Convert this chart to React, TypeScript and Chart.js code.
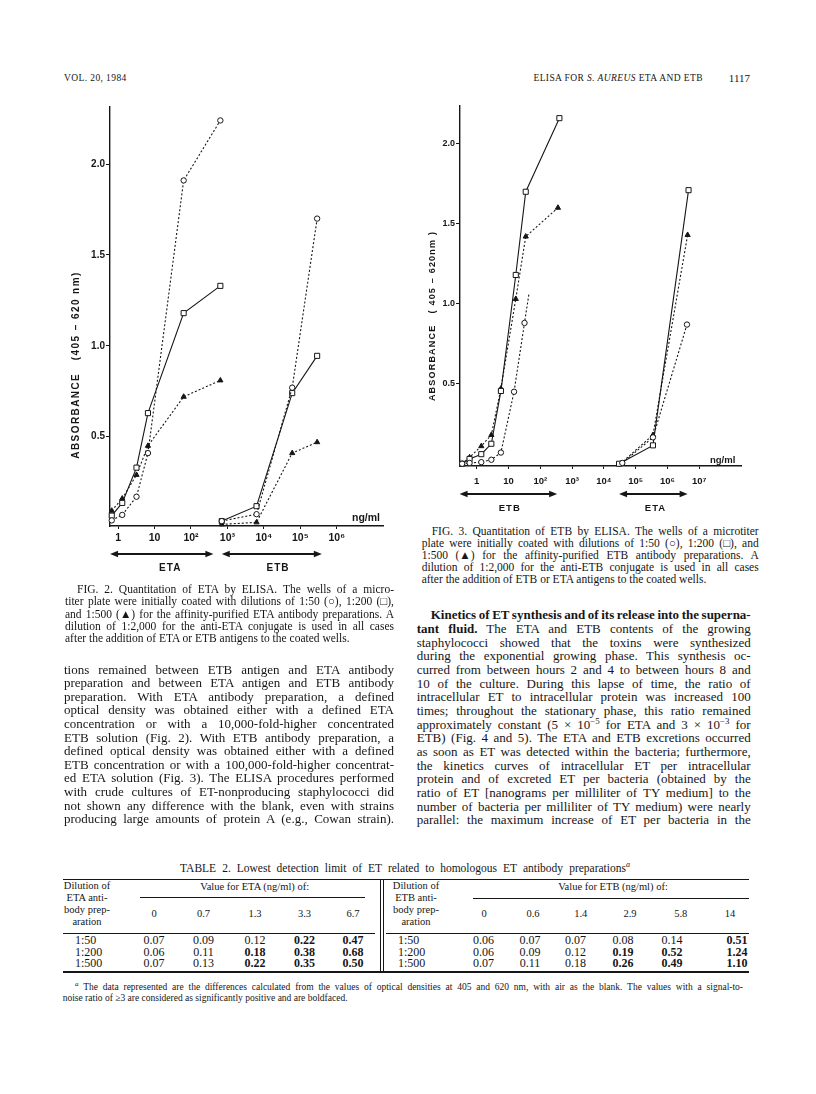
import React, { useEffect, useLayoutEffect, useRef } from 'react';
import { Chart, registerables } from 'chart.js';

Chart.register(...registerables);

const INK = '#161616';
const SERIF = "'Liberation Serif', 'Times New Roman', serif";
const SANS = "'Liberation Sans', Arial, Helvetica, sans-serif";

// ---------------- Fig. 2 : ETA antibody preparation ----------------
const fig2EtaConc = [0.67, 1.3, 3.2, 6.6, 63, 640];
const fig2Eta50 = [0.04, 0.07, 0.17, 0.41, 1.91, 2.24];
const fig2Eta200 = [0.066, 0.136, 0.33, 0.63, 1.18, 1.33];
const fig2Eta500 = [0.093, 0.16, 0.29, 0.45, 0.72, 0.81];
const fig2EtbConc = [700, 6300, 60000, 290000];
const fig2Etb50 = [0.036, 0.074, 0.77, 1.7];
const fig2Etb200 = [0.036, 0.118, 0.74, 0.945];
const fig2Etb500 = [0.018, 0.029, 0.41, 0.47];
const fig2XTicks = [1, 10, 100, 1e3, 1e4, 1e5, 1e6];
const fig2XTickLabels = ['1', '10', '10²', '10³', '10⁴', '10⁵', '10⁶'];
const fig2XRange = [0.603, 1.86e7];
const fig2YRange = [0.009, 2.314];
// arrows under the axis: [from, to, labelAt]
const fig2EtaArrow = [0.603, 412, 27];
const fig2EtbArrow = [700, 390000, 24500];

// ---------------- Fig. 3 : ETB antibody preparation ----------------
const fig3EtbConc50 = [0.35, 0.6, 1.4, 2.9, 5.8, 15, 32, 44];
const fig3Etb50 = [0, 0.005, 0.01, 0.025, 0.07, 0.45, 0.88, 1.06];
const fig3EtbConc200 = [0.35, 0.6, 1.4, 2.9, 5.8, 17, 35, 400];
const fig3Etb200 = [0, 0.03, 0.06, 0.125, 0.455, 1.18, 1.7, 2.16];
const fig3EtbConc500 = [0.35, 0.6, 1.4, 2.9, 5.8, 17, 35, 360];
const fig3Etb500 = [0, 0.04, 0.11, 0.18, 0.47, 1.03, 1.42, 1.6];
const fig3EtaConc50 = [38000, 350000, 4.1e6];
const fig3Eta50 = [0.005, 0.165, 0.87];
const fig3EtaConc200 = [30000, 350000, 4.6e6];
const fig3Eta200 = [0, 0.115, 1.71];
const fig3EtaConc500 = [33000, 350000, 4.3e6];
const fig3Eta500 = [0, 0.18, 1.43];
const fig3XTicks = [1, 10, 100, 1e3, 1e4, 1e5, 1e6, 1e7];
const fig3XTickLabels = ['1', '10', '10²', '10³', '10⁴', '10⁵', '10⁶', '10⁷'];
const fig3XRange = [0.34, 2.05e8];
const fig3YRange = [-0.014, 2.236];
const fig3EtbArrow = [0.29, 340, 11];
const fig3EtaArrow = [30000, 4.3e6, 420000];

const yTicks = [0.5, 1.0, 1.5, 2.0];
const yTickLabels = ['0.5', '1.0', '1.5', '2.0'];

// ---------------- Table 2 ----------------
const dilutions = ['1:50', '1:200', '1:500'];
const etaCols = ['0', '0.7', '1.3', '3.3', '6.7'];
const etbCols = ['0', '0.6', '1.4', '2.9', '5.8', '14'];
const etaValues = [
  [0.07, 0.09, 0.12, 0.22, 0.47],
  [0.06, 0.11, 0.18, 0.38, 0.68],
  [0.07, 0.13, 0.22, 0.35, 0.5],
];
const etbValues = [
  [0.06, 0.07, 0.07, 0.08, 0.14, 0.51],
  [0.06, 0.09, 0.12, 0.19, 0.52, 1.24],
  [0.07, 0.11, 0.18, 0.26, 0.49, 1.1],
];

// ---------------- text ----------------
const fig2Caption = [
  'FIG. 2. Quantitation of ETA by ELISA. The wells of a micro-',
  'titer plate were initially coated with dilutions of 1:50 (○), 1:200 (□),',
  'and 1:500 (▲) for the affinity-purified ETA antibody preparations. A',
  'dilution of 1:2,000 for the anti-ETA conjugate is used in all cases',
  'after the addition of ETA or ETB antigens to the coated wells.',
];
const fig3Caption = [
  'FIG. 3. Quantitation of ETB by ELISA. The wells of a microtiter',
  'plate were initially coated with dilutions of 1:50 (○), 1:200 (□), and',
  '1:500 (▲) for the affinity-purified ETB antibody preparations. A',
  'dilution of 1:2,000 for the anti-ETB conjugate is used in all cases',
  'after the addition of ETB or ETA antigens to the coated wells.',
];
const leftBody = [
  'tions remained between ETB antigen and ETA antibody',
  'preparation and between ETA antigen and ETB antibody',
  'preparation. With ETA antibody preparation, a defined',
  'optical density was obtained either with a defined ETA',
  'concentration or with a 10,000-fold-higher concentrated',
  'ETB solution (Fig. 2). With ETB antibody preparation, a',
  'defined optical density was obtained either with a defined',
  'ETB concentration or with a 100,000-fold-higher concentrat-',
  'ed ETA solution (Fig. 3). The ELISA procedures performed',
  'with crude cultures of ET-nonproducing staphylococci did',
  'not shown any difference with the blank, even with strains',
  'producing large amounts of protein A (e.g., Cowan strain).',
];
const sup = (s: string) => (
  <span style={{ fontSize: '0.68em', verticalAlign: 'super', lineHeight: 0 }}>{s}</span>
);
const rightBody: React.ReactNode[] = [
  <b>Kinetics of ET synthesis and of its release into the superna-</b>,
  <>
    <b>tant fluid.</b> The ETA and ETB contents of the growing
  </>,
  'staphylococci showed that the toxins were synthesized',
  'during the exponential growing phase. This synthesis oc-',
  'curred from between hours 2 and 4 to between hours 8 and',
  '10 of the culture. During this lapse of time, the ratio of',
  'intracellular ET to intracellular protein was increased 100',
  'times; throughout the stationary phase, this ratio remained',
  <>
    approximately constant (5 × 10{sup('−5')} for ETA and 3 × 10{sup('−3')} for
  </>,
  'ETB) (Fig. 4 and 5). The ETA and ETB excretions occurred',
  'as soon as ET was detected within the bacteria; furthermore,',
  'the kinetics curves of intracellular ET per intracellular',
  'protein and of excreted ET per bacteria (obtained by the',
  'ratio of ET [nanograms per milliliter of TY medium] to the',
  'number of bacteria per milliliter of TY medium) were nearly',
  'parallel: the maximum increase of ET per bacteria in the',
];

// ---------------- chart plumbing ----------------
type Kind = 'circle' | 'rect' | 'triangle';

function series(xs: number[], ys: number[], kind: Kind, dotted: boolean, hideLast = false) {
  const r = kind === 'rect' ? 3.6 : kind === 'triangle' ? 3 : 2.7;
  return {
    data: xs.map((x, i) => ({ x, y: ys[i] })),
    showLine: true,
    borderColor: INK,
    borderWidth: 1.1,
    borderDash: dotted ? [2, 2] : [],
    pointStyle: kind,
    pointRadius: xs.map((_, i) => (hideLast && i === xs.length - 1 ? 0 : r)),
    pointBackgroundColor: kind === 'triangle' ? INK : '#ffffff',
    pointBorderColor: INK,
    pointBorderWidth: 1,
    clip: false,
  };
}

const figAnnot = {
  id: 'figAnnot',
  afterDraw(chart: any, _args: any, o: any) {
    const { ctx, chartArea } = chart;
    const xs = chart.scales.x;
    ctx.save();
    ctx.fillStyle = INK;
    ctx.strokeStyle = INK;

    // rotated y-axis title
    ctx.save();
    ctx.translate(o.titleX, o.titleY);
    ctx.rotate(-Math.PI / 2);
    ctx.font = `bold ${o.titleSize}px ${SANS}`;
    ctx.textAlign = 'center';
    ctx.textBaseline = 'middle';
    (ctx as any).letterSpacing = '0px';
    const base = ctx.measureText(o.title).width;
    (ctx as any).letterSpacing = `${(o.titleLen - base) / (o.title.length - 1)}px`;
    ctx.fillText(o.title, 0, 0);
    ctx.restore();

    // unit label
    ctx.font = `bold ${o.unitSize}px ${SANS}`;
    ctx.textAlign = 'left';
    ctx.textBaseline = 'middle';
    ctx.fillText('ng/ml', chartArea.right + o.unitDx, chartArea.bottom + o.unitDy);

    // double arrows + group labels
    for (const a of o.arrows) {
      const x1 = xs.getPixelForValue(a.range[0]);
      const x2 = xs.getPixelForValue(a.range[1]);
      const y = chartArea.bottom + o.arrowDy;
      ctx.lineWidth = 2;
      ctx.beginPath();
      ctx.moveTo(x1 + 4, y);
      ctx.lineTo(x2 - 4, y);
      ctx.stroke();
      for (const [hx, dir] of [[x1, 1], [x2, -1]]) {
        ctx.beginPath();
        ctx.moveTo(hx, y);
        ctx.lineTo(hx + dir * 8, y - 3.2);
        ctx.lineTo(hx + dir * 8, y + 3.2);
        ctx.closePath();
        ctx.fill();
      }
      ctx.font = `bold ${o.labelSize}px ${SANS}`;
      ctx.textAlign = 'center';
      (ctx as any).letterSpacing = '1px';
      ctx.fillText(a.label, xs.getPixelForValue(a.range[2]), chartArea.bottom + o.labelDy);
      (ctx as any).letterSpacing = '0px';
    }
    ctx.restore();
  },
};

function buildConfig(f: any) {
  const tickFont = (size: number) => ({ family: SANS, weight: 'bold' as const, size });
  return {
    type: 'scatter' as const,
    data: { datasets: f.datasets },
    options: {
      animation: false as const,
      responsive: false,
      devicePixelRatio: 1,
      events: [],
      layout: { padding: f.padding },
      plugins: { legend: { display: false }, tooltip: { enabled: false }, figAnnot: f.annot },
      scales: {
        x: {
          type: 'logarithmic' as const,
          min: f.xRange[0],
          max: f.xRange[1],
          afterBuildTicks: (s: any) => {
            s.ticks = f.xTicks.map((v: number) => ({ value: v }));
          },
          afterFit: (s: any) => {
            s.height = f.xHeight;
          },
          ticks: {
            autoSkip: false,
            maxRotation: 0,
            minRotation: 0,
            padding: f.xTickPad,
            color: INK,
            font: tickFont(f.xTickSize),
            callback: (_v: any, i: number) => f.xTickLabels[i],
          },
          grid: { display: true, drawOnChartArea: false, drawTicks: true, tickLength: 3, color: INK, lineWidth: 1 },
          border: { display: true, color: INK, width: 1.4 },
          title: { display: false },
        },
        y: {
          type: 'linear' as const,
          min: f.yRange[0],
          max: f.yRange[1],
          afterBuildTicks: (s: any) => {
            s.ticks = yTicks.map((v) => ({ value: v }));
          },
          afterFit: (s: any) => {
            s.width = f.yWidth;
          },
          ticks: {
            padding: 1,
            color: INK,
            font: tickFont(f.yTickSize),
            callback: (_v: any, i: number) => yTickLabels[i],
          },
          grid: { display: true, drawOnChartArea: false, drawTicks: true, tickLength: 4, color: INK, lineWidth: 1 },
          border: { display: true, color: INK, width: 1.4 },
          title: { display: false },
        },
      },
    },
    plugins: [figAnnot],
  };
}

function FigChart({ spec }: { spec: any }) {
  const ref = useRef<HTMLCanvasElement>(null);
  useEffect(() => {
    const chart = new Chart(ref.current as HTMLCanvasElement, buildConfig(spec) as any);
    return () => chart.destroy();
  }, []);
  const c = spec.canvas;
  return (
    <canvas
      ref={ref}
      width={c.width}
      height={c.height}
      style={{ position: 'absolute', left: c.left, top: c.top, width: c.width, height: c.height }}
    />
  );
}

const fig2Spec = {
  canvas: { left: 40, top: 95, width: 360, height: 490 },
  padding: { left: 0, top: 12, right: 17, bottom: 0 },
  yWidth: 70,
  xHeight: 59,
  xRange: fig2XRange,
  yRange: fig2YRange,
  xTicks: fig2XTicks,
  xTickLabels: fig2XTickLabels,
  xTickPad: 3,
  xTickSize: 10.5,
  yTickSize: 10,
  datasets: [
    series(fig2EtaConc, fig2Eta50, 'circle', true),
    series(fig2EtaConc, fig2Eta200, 'rect', false),
    series(fig2EtaConc, fig2Eta500, 'triangle', true),
    series(fig2EtbConc, fig2Etb50, 'circle', true),
    series(fig2EtbConc, fig2Etb200, 'rect', false),
    series(fig2EtbConc, fig2Etb500, 'triangle', true),
  ],
  annot: {
    title: 'ABSORBANCE   (405 – 620 nm)',
    titleX: 36,
    titleY: 270,
    titleLen: 186,
    titleSize: 10,
    unitDx: -31,
    unitDy: -8,
    unitSize: 10.5,
    arrowDy: 28,
    labelDy: 42,
    labelSize: 10,
    arrows: [
      { range: fig2EtaArrow, label: 'ETA' },
      { range: fig2EtbArrow, label: 'ETB' },
    ],
  },
};

const fig3Spec = {
  canvas: { left: 400, top: 95, width: 370, height: 425 },
  padding: { left: 0, top: 11, right: 29, bottom: 0 },
  yWidth: 60,
  xHeight: 54,
  xRange: fig3XRange,
  yRange: fig3YRange,
  xTicks: fig3XTicks,
  xTickLabels: fig3XTickLabels,
  xTickPad: 7,
  xTickSize: 9.5,
  yTickSize: 9,
  datasets: [
    series(fig3EtbConc50, fig3Etb50, 'circle', true, true),
    series(fig3EtbConc200, fig3Etb200, 'rect', false),
    series(fig3EtbConc500, fig3Etb500, 'triangle', true),
    series(fig3EtaConc50, fig3Eta50, 'circle', true),
    series(fig3EtaConc200, fig3Eta200, 'rect', false),
    series(fig3EtaConc500, fig3Eta500, 'triangle', true),
  ],
  annot: {
    title: 'ABSORBANCE   ( 405 – 620nm )',
    titleX: 33,
    titleY: 221,
    titleLen: 169,
    titleSize: 9,
    unitDx: -31,
    unitDy: -6,
    unitSize: 9.5,
    arrowDy: 28,
    labelDy: 42,
    labelSize: 9.5,
    arrows: [
      { range: fig3EtbArrow, label: 'ETB' },
      { range: fig3EtaArrow, label: 'ETA' },
    ],
  },
};

// ---------------- text helpers ----------------
type TProps = {
  x: number;
  y: number;
  w?: number;
  size: number;
  bold?: boolean;
  italic?: boolean;
  align?: 'left' | 'center' | 'right';
  ls?: number;
  family?: string;
  children: React.ReactNode;
};

function T({ x, y, w, size, bold, italic, align = 'left', ls = 0, family = SERIF, children }: TProps) {
  const ref = useRef<HTMLSpanElement>(null);
  useLayoutEffect(() => {
    const el = ref.current;
    if (!el || !w) return;
    el.style.wordSpacing = '0px';
    const nat = el.getBoundingClientRect().width;
    const n = (el.textContent || '').split(' ').length - 1;
    if (n > 0) el.style.wordSpacing = `${(w - nat) / n}px`;
  }, [w]);
  const tx = align === 'center' ? 'translateX(-50%)' : align === 'right' ? 'translateX(-100%)' : undefined;
  return (
    <span
      ref={ref}
      style={{
        position: 'absolute',
        left: x,
        top: y - size * 0.52,
        fontSize: size,
        lineHeight: `${size}px`,
        fontFamily: family,
        fontWeight: bold ? 700 : 400,
        fontStyle: italic ? 'italic' : 'normal',
        whiteSpace: 'pre',
        letterSpacing: ls,
        transform: tx,
        color: INK,
      }}
    >
      {children}
    </span>
  );
}

function Block({
  lines,
  x,
  y0,
  dy,
  w,
  size,
  indent = 0,
  justifyLast = false,
}: {
  lines: React.ReactNode[];
  x: number;
  y0: number;
  dy: number;
  w: number;
  size: number;
  indent?: number;
  justifyLast?: boolean;
}) {
  return (
    <>
      {lines.map((ln, i) => {
        const ind = i === 0 ? indent : 0;
        const just = i < lines.length - 1 || justifyLast;
        return (
          <T key={i} x={x + ind} y={y0 + i * dy} w={just ? w - ind : undefined} size={size}>
            {ln}
          </T>
        );
      })}
    </>
  );
}

function Rule({ x1, x2, y, h = 1 }: { x1: number; x2: number; y: number; h?: number }) {
  return <div style={{ position: 'absolute', left: x1, top: y - h / 2, width: x2 - x1, height: h, background: INK }} />;
}
function VRule({ x, y1, y2 }: { x: number; y1: number; y2: number }) {
  return <div style={{ position: 'absolute', left: x, top: y1, width: 1, height: y2 - y1, background: INK }} />;
}

const etaColX = [154, 203.5, 255, 304.5, 353];
const etbHeadX = [484, 533, 580.7, 630, 680.7, 730];
const etbValX = [483.5, 530, 575.5, 623, 672, 737];
const rowY = [940.2, 951.8, 963.4];

function isBold(row: number[], v: number) {
  return v >= 3 * row[0] - 1e-9;
}

function Table() {
  const hs = 10.5;
  const vs = 12;
  return (
    <>
      <T x={180} y={869.3} w={450} size={11.5}>
        TABLE 2. Lowest detection limit of ET related to homologous ET antibody preparations
        <span style={{ fontStyle: 'italic', fontSize: '0.7em', verticalAlign: 'super', lineHeight: 0 }}>a</span>
      </T>
      <Rule x1={62.7} x2={749} y={879.5} h={1.5} />
      {['Dilution of', 'ETA anti-', 'body prep-', 'aration'].map((s, i) => (
        <T key={'lh' + i} x={87} y={886.7 + i * 11.8} size={hs} align="center">
          {s}
        </T>
      ))}
      <T x={254.7} y={887.7} size={hs} align="center">
        Value for ETA (ng/ml) of:
      </T>
      <Rule x1={140} x2={365} y={897} />
      {etaCols.map((c, i) => (
        <T key={'ec' + i} x={etaColX[i]} y={914.3} size={hs} align="center">
          {c}
        </T>
      ))}
      <Rule x1={62.7} x2={375} y={933.5} />
      {['Dilution of', 'ETB anti-', 'body prep-', 'aration'].map((s, i) => (
        <T key={'rh' + i} x={416} y={886.7 + i * 11.8} size={hs} align="center">
          {s}
        </T>
      ))}
      <T x={613} y={887.7} size={hs} align="center">
        Value for ETB (ng/ml) of:
      </T>
      <Rule x1={473} x2={749} y={898} />
      {etbCols.map((c, i) => (
        <T key={'bc' + i} x={etbHeadX[i]} y={914.3} size={hs} align="center">
          {c}
        </T>
      ))}
      <Rule x1={386} x2={749} y={933.5} />
      {dilutions.map((d, r) => (
        <React.Fragment key={'r' + r}>
          <T x={75} y={rowY[r]} size={vs}>
            {d}
          </T>
          {etaValues[r].map((v, i) => (
            <T key={'ev' + i} x={etaColX[i]} y={rowY[r]} size={vs} align="center" bold={isBold(etaValues[r], v)}>
              {v.toFixed(2)}
            </T>
          ))}
          <T x={398} y={rowY[r]} size={vs}>
            {d}
          </T>
          {etbValues[r].map((v, i) => (
            <T key={'bv' + i} x={etbValX[i]} y={rowY[r]} size={vs} align="center" bold={isBold(etbValues[r], v)}>
              {v.toFixed(2)}
            </T>
          ))}
        </React.Fragment>
      ))}
      <Rule x1={62.7} x2={749} y={972} h={1.5} />
      <VRule x={380} y1={880} y2={972} />
      <VRule x={383.3} y1={880} y2={972} />
      <T x={75} y={988} w={668} size={9.5}>
        <span style={{ fontStyle: 'italic', fontSize: '0.75em', verticalAlign: 'super', lineHeight: 0 }}>a</span> The data
        represented are the differences calculated from the values of optical densities at 405 and 620 nm, with air as the
        blank. The values with a signal-to-
      </T>
      <T x={62.7} y={998.5} size={9.5}>
        noise ratio of ≥3 are considered as significantly positive and are boldfaced.
      </T>
    </>
  );
}

export default function App() {
  return (
    <div
      style={{
        position: 'absolute',
        left: 0,
        top: 0,
        width: 816,
        height: 1094,
        background: '#ffffff',
        overflow: 'hidden',
      }}
    >
      <T x={64} y={79} size={9.5} ls={0.4}>
        VOL. 20, 1984
      </T>
      <T x={703} y={79} size={9.5} ls={0.4} align="right">
        ELISA FOR <i>S. AUREUS</i> ETA AND ETB
      </T>
      <T x={750} y={79} size={11} align="right">
        1117
      </T>

      <FigChart spec={fig2Spec} />
      <FigChart spec={fig3Spec} />

      <Block lines={fig2Caption} x={65} y0={590} dy={12.3} w={329} size={11.5} indent={12} />
      <Block lines={leftBody} x={64} y0={669.3} dy={13.6} w={330} size={13} justifyLast />

      <Block lines={fig3Caption} x={421.7} y0={531.7} dy={12.1} w={337} size={11.5} indent={10} />
      <Block lines={rightBody} x={416.7} y0={615} dy={13.67} w={334} size={13} indent={14} justifyLast />

      <Table />
    </div>
  );
}
